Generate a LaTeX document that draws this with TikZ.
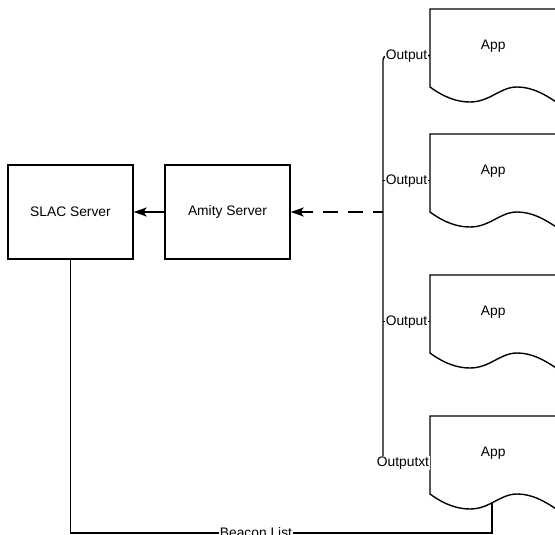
\documentclass[tikz,border=0pt]{standalone}
\usepackage{fontspec}
\setmainfont{Liberation Sans}
\usetikzlibrary{arrows.meta,calc}
\begin{document}
\begin{tikzpicture}[x=1pt,y=-1pt, line width=1.4pt,
  every node/.style={font=\fontsize{13.8}{16}\selectfont},
  server/.style={draw, rectangle, minimum width=125pt, minimum height=94pt, inner sep=0pt},
  docnode/.style={rectangle, minimum width=125pt, minimum height=92pt, inner sep=0pt, anchor=north west},
  lbl/.style={fill=white, inner sep=0.6pt},
  tip/.style={-{Stealth[length=13pt,width=9pt,inset=3pt]}},
  dashline/.style={dash pattern=on 15pt off 10pt, dash phase=5pt},
]
\useasboundingbox (0,0) rectangle (555,535);

% servers
\node[server] (slac) at (70.5,212) {SLAC Server};
\node[server] (amity) at (227.5,212) {Amity Server};

% documents
\foreach \n/\t in {app1/9, app2/134, app3/275, app4/416}{
  \node[docnode] (\n) at (430,\t) {};
  \draw[shift={(\n.north west)}] (140,0) -- (0,0) -- (0,78)
     .. controls (15,89) and (28,93) .. (40,93)
     .. controls (60,93) and (70,78) .. (87,78)
     .. controls (102,78) and (115,85) .. (132,97);
  \node (\n t) at ($(\n.north)+(0,37)$) {App};
}

% bus
\coordinate (bus) at (383,212);
\draw[rounded corners=4pt] (app1.west) -- (bus |- app1.west) -- (bus |- app4.west) -- (app4.west);
\draw (app2.west) -- (bus |- app2.west);
\draw (app3.west) -- (bus |- app3.west);

% arrows
\draw[tip, dashline] (bus) -- (amity.east);
\draw[tip] (amity.west) -- (slac.east);

% beacon list
\coordinate (bl) at (492,533);
\coordinate (a4b) at (492,502);
\draw (slac.south) |- (bl) -- (a4b);

% labels
\node[lbl] (o1) at ($(app1.west)!0.5!(bus |- app1.west)$) {Output};
\node[lbl] (o2) at ($(app2.west)!0.5!(bus |- app2.west)$) {Output};
\node[lbl] (o3) at ($(app3.west)!0.5!(bus |- app3.west)$) {Output};
\node[lbl, xshift=-3.5pt] (o4) at ($(app4.west)!0.5!(bus |- app4.west)$) {Outputxt};
\node[lbl] (beacon) at (256,533) {Beacon List};
\end{tikzpicture}
\end{document}
